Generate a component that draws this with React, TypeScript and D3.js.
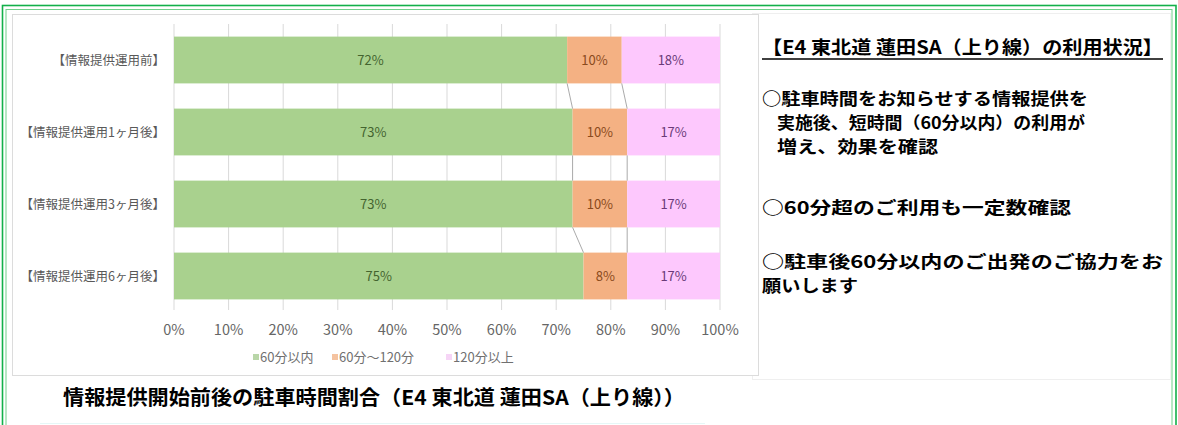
import React from "react";
import * as d3 from "d3";

const categories = [
  "【情報提供運用前】",
  "【情報提供運用1ヶ月後】",
  "【情報提供運用3ヶ月後】",
  "【情報提供運用6ヶ月後】",
];
const seriesNames = ["60分以内", "60分～120分", "120分以上"];
const within60 = [72, 73, 73, 75];
const from60to120 = [10, 10, 10, 8];
const over120 = [18, 17, 17, 17];
const xTicks = [0, 10, 20, 30, 40, 50, 60, 70, 80, 90, 100];

const chartTitle = "情報提供開始前後の駐車時間割合（E4 東北道 蓮田SA（上り線））";
const panelHeader = "【E4 東北道 蓮田SA（上り線）の利用状況】";
const panelParagraphs = [
  ["○駐車時間をお知らせする情報提供を", "実施後、短時間（60分以内）の利用が", "増え、効果を確認"],
  ["○60分超のご利用も一定数確認"],
  ["○駐車後60分以内のご出発のご協力をお", "願いします"],
];

const W = 1178;
const H = 425;
const FONT = "'Noto Sans CJK JP', 'Noto Sans', sans-serif";

const seriesColors = ["#a9d18e", "#f4b183", "#fdc8fd"];
const seriesLabelColors = ["#44642f", "#8a4a1c", "#6a3a78"];
const legendColors = ["#b9d6a8", "#f5c3a0", "#f6d5f6"];

export default function App() {
  const rows = categories.map((c, i) => ({
    cat: c,
    s0: within60[i],
    s1: from60to120[i],
    s2: over120[i],
  }));
  const keys = ["s0", "s1", "s2"];
  const stacked = d3.stack<any>().keys(keys)(rows);

  const x = d3.scaleLinear().domain([0, 100]).range([174, 720]);
  const y = d3
    .scaleBand<string>()
    .domain(categories)
    .range([24, 312])
    .paddingInner(0.35)
    .paddingOuter(0.175);
  const bw = y.bandwidth();

  const seriesLines: { x1: number; y1: number; x2: number; y2: number }[] = [];
  for (let i = 0; i < categories.length - 1; i++) {
    for (let k = 0; k < 2; k++) {
      const a = stacked[k][i][1];
      const b = stacked[k][i + 1][1];
      seriesLines.push({
        x1: x(a),
        y1: (y(categories[i]) as number) + bw,
        x2: x(b),
        y2: y(categories[i + 1]) as number,
      });
    }
  }

  const legendItems = [
    { name: seriesNames[0], x: 253 },
    { name: seriesNames[1], x: 332 },
    { name: seriesNames[2], x: 446 },
  ];

  const paraY = [105, 214, 268];
  const lineX = [
    [762, 777, 777],
    [762],
    [762, 762],
  ];
  const lineW = [
    [326, 308, 161],
    [309],
    [401, 96],
  ];
  const lineGap = 24;

  return (
    <svg
      width={W}
      height={H}
      style={{ position: "absolute", left: 0, top: 0, background: "#fff" }}
      fontFamily={FONT}
    >
      <rect x={0} y={0} width={W} height={H} fill="#ffffff" />
      <rect x={2.5} y={5.5} width={1173.5} height={440} fill="none" stroke="#13b04a" strokeWidth={1.6} />
      <rect x={6} y={9.5} width={1166} height={440} fill="none" stroke="#6fd08a" strokeWidth={1} />

      <rect x={752.5} y={13.5} width={418} height={366} fill="#fff" stroke="#efefef" strokeWidth={1} />

      <rect x={12.5} y={14.5} width={746} height={361} fill="#ffffff" stroke="#dcdcdc" strokeWidth={1} />

      {xTicks.map((t) => (
        <line key={"g" + t} x1={x(t)} x2={x(t)} y1={24} y2={310} stroke="#d9d9d9" strokeWidth={1} />
      ))}

      {stacked.map((s, si) =>
        s.map((d, i) => (
          <rect
            key={`b${si}-${i}`}
            x={x(d[0])}
            y={y(categories[i])}
            width={x(d[1]) - x(d[0])}
            height={bw}
            fill={seriesColors[si]}
          />
        ))
      )}

      {seriesLines.map((l, i) => (
        <line key={"sl" + i} x1={l.x1} y1={l.y1} x2={l.x2} y2={l.y2} stroke="#a0a0a0" strokeWidth={0.9} />
      ))}

      {stacked.map((s, si) =>
        s.map((d, i) => (
          <text
            key={`l${si}-${i}`}
            x={(x(d[0]) + x(d[1])) / 2}
            y={(y(categories[i]) as number) + bw / 2}
            dy="0.36em"
            textAnchor="middle"
            fontSize={13}
            fill={seriesLabelColors[si]}
          >
            {`${d[1] - d[0]}%`}
          </text>
        ))
      )}

      {categories.map((c) => (
        <text
          key={"c" + c}
          x={165}
          y={(y(c) as number) + bw / 2}
          dy="0.36em"
          textAnchor="end"
          fontSize={12.5}
          fill="#595959"
        >
          {c}
        </text>
      ))}

      {xTicks.map((t) => (
        <text key={"t" + t} x={x(t)} y={330} dy="0.36em" textAnchor="middle" fontSize={14.5} fill="#666">
          {`${t}%`}
        </text>
      ))}

      {legendItems.map((it, i) => (
        <g key={"lg" + i}>
          <rect x={it.x} y={354} width={6} height={6} fill={legendColors[i]} />
          <text x={it.x + 7} y={357} dy="0.36em" fontSize={13} fill="#707070">
            {it.name}
          </text>
        </g>
      ))}

      <line x1={40} x2={705} y1={423.5} y2={423.5} stroke="#e6f7f7" strokeWidth={1} />
      <text x={63} y={405} fontSize={20} fontWeight={700} fill="#000" textLength={622} lengthAdjust="spacingAndGlyphs">
        {chartTitle}
      </text>

      <text x={762} y={54} fontSize={18.5} fontWeight={700} fill="#000" textLength={401} lengthAdjust="spacingAndGlyphs">
        {panelHeader}
      </text>
      <line x1={762} x2={1163} y1={59} y2={59} stroke="#000" strokeWidth={1.5} />
      {panelParagraphs.map((para, pi) =>
        para.map((ln, li) => (
          <text
            key={`p${pi}-${li}`}
            x={lineX[pi][li]}
            y={paraY[pi] + li * lineGap}
            fontSize={16.5}
            fontWeight={700}
            fill="#000"
            textLength={lineW[pi][li]}
            lengthAdjust="spacingAndGlyphs"
          >
            {ln}
          </text>
        ))
      )}
    </svg>
  );
}
